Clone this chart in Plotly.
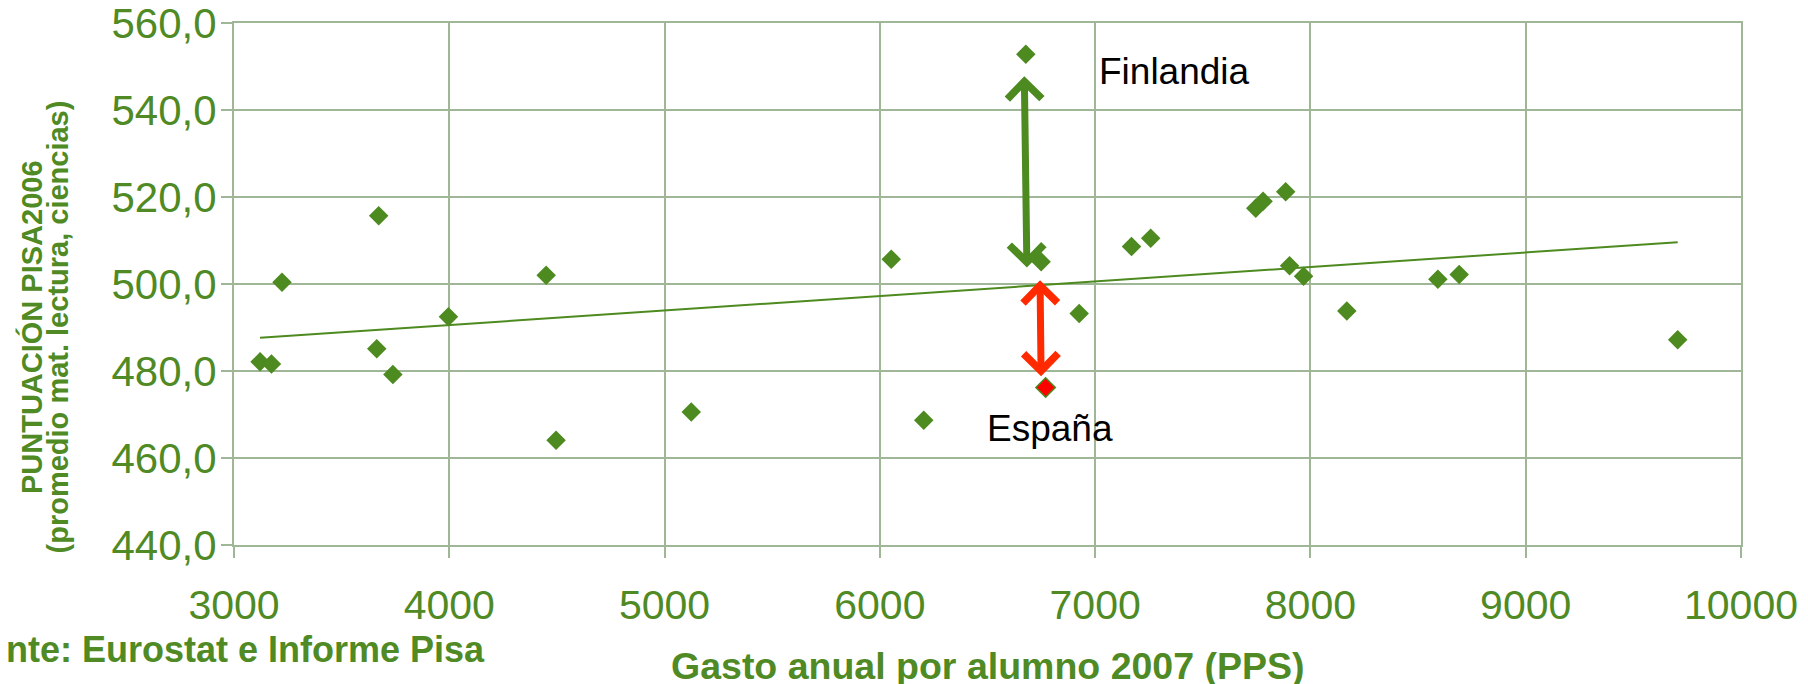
import numpy as np
import plotly.graph_objects as go

# gasto anual por alumno 2007 (PPS) y puntuacion PISA 2006
gasto = [3121, 3174, 3223, 3663, 3672, 3738, 3996, 4450, 4496, 5124,
         6053, 6204, 6678, 6749, 6926, 7169, 7258, 7746, 7780, 7885,
         7903, 7968, 8169, 8592, 8691, 9706]
pisa = [482.1, 481.6, 500.4, 485.1, 515.7, 479.2, 492.5, 502.0, 464.1, 470.6,
        505.7, 468.7, 552.8, 505.1, 493.2, 508.6, 510.5, 517.4, 519.0, 521.2,
        504.2, 501.8, 493.8, 501.1, 502.2, 487.2]

espana_x = [6770]
espana_y = [476.2]

labels = ["Finlandia", "España"]
label_x = [7010, 6790]
label_y = [548.8, 466.8]

# flechas dobles (x arriba, y arriba, x abajo, y abajo)
flecha_verde = [6671, 548.1, 6683, 503.8]
flecha_roja = [6744, 501.2, 6749, 478.8]

x_ticks = [3000, 4000, 5000, 6000, 7000, 8000, 9000, 10000]
x_ticktext = ["3000", "4000", "5000", "6000", "7000", "8000", "9000", "10000"]
y_ticks = [440, 460, 480, 500, 520, 540, 560]

GREEN = "#4d8a1f"
TXT = "#4f8a24"
GRID = "#9fb797"
RED = "#ff2a00"
FONT = "Liberation Sans, Arial, sans-serif"

# linea de tendencia (regresion lineal sobre todos los paises)
all_x = np.array(gasto + espana_x, dtype=float)
all_y = np.array(pisa + espana_y, dtype=float)
m, b = np.polyfit(all_x, all_y, 1)
tx = np.array([all_x.min(), all_x.max()])
ty = m * tx + b

fig = go.Figure()
fig.add_trace(go.Scatter(x=tx, y=ty, mode="lines",
                         line=dict(color=GREEN, width=2), hoverinfo="skip"))
fig.add_trace(go.Scatter(x=gasto, y=pisa, mode="markers",
                         marker=dict(symbol="diamond", size=15, color=GREEN,
                                     line=dict(width=0))))
fig.add_trace(go.Scatter(x=espana_x, y=espana_y, mode="markers",
                         marker=dict(symbol="diamond", size=15, color="#ff0000",
                                     line=dict(width=1.5, color=GREEN))))

for f, col in [(flecha_verde, GREEN), (flecha_roja, RED)]:
    fig.add_annotation(x=f[2], y=f[3], ax=f[0], ay=f[1], xref="x", yref="y",
                       axref="x", ayref="y", text="", showarrow=True,
                       arrowside="end+start", arrowhead=4, startarrowhead=4,
                       arrowsize=0.95, startarrowsize=0.95, arrowwidth=7,
                       arrowcolor=col, standoff=0, startstandoff=0)

fig.add_annotation(x=label_x[0], y=label_y[0], text=labels[0], showarrow=False,
                   xanchor="left", yanchor="middle",
                   font=dict(family=FONT, size=37, color="black"))
fig.add_annotation(x=label_x[1], y=label_y[1], text=labels[1], showarrow=False,
                   xanchor="center", yanchor="middle",
                   font=dict(family=FONT, size=37, color="black"))

# titulos de ejes y fuente
fig.add_annotation(xref="paper", yref="paper", x=-0.1347, y=0.4176,
                   text="<b>PUNTUACIÓN PISA2006</b>", textangle=-90,
                   showarrow=False, xanchor="center", yanchor="middle",
                   font=dict(family=FONT, size=29, color=TXT))
fig.add_annotation(xref="paper", yref="paper", x=-0.1165, y=0.4176,
                   text="<b>(promedio mat. lectura, ciencias)</b>", textangle=-90,
                   showarrow=False, xanchor="center", yanchor="middle",
                   font=dict(family=FONT, size=29, color=TXT))
fig.add_annotation(xref="paper", yref="paper", x=0.5, y=-0.231,
                   text="<b>Gasto anual por alumno 2007 (PPS)</b>",
                   showarrow=False, xanchor="center", yanchor="middle",
                   font=dict(family=FONT, size=37.5, color=TXT))
fig.add_annotation(xref="paper", yref="paper", x=0.1679, y=-0.2,
                   text="<b>Fuente: Eurostat e Informe Pisa</b>",
                   showarrow=False, xanchor="right", yanchor="middle",
                   font=dict(family=FONT, size=36, color=TXT))

# la pagina deja 8 px de margen en el body: se descuentan aqui
fig.update_layout(
    width=1800, height=676,
    margin=dict(l=226, r=67, t=15, b=139),
    paper_bgcolor="white", plot_bgcolor="white",
    showlegend=False, separators=", ",
    font=dict(family=FONT, color=TXT),
)
fig.update_xaxes(range=[3000, 10000], tickvals=x_ticks, ticktext=x_ticktext,
                 showgrid=True, automargin=False, ticklabeloverflow="allow",
                 gridcolor=GRID, gridwidth=2, showline=True, linecolor=GRID,
                 linewidth=2, mirror=True, ticks="outside", ticklen=11,
                 tickcolor=GRID, tickwidth=2, zeroline=False,
                 tickfont=dict(size=41, color=TXT), ticklabelstandoff=12)
fig.update_yaxes(range=[440, 560], tickvals=y_ticks, tickformat=".1f",
                 showgrid=True, automargin=False, ticklabeloverflow="allow",
                 gridcolor=GRID, gridwidth=2,
                 showline=True, linecolor=GRID, linewidth=2, mirror=True,
                 ticks="outside", ticklen=11, tickcolor=GRID, tickwidth=2,
                 zeroline=False, tickfont=dict(size=42, color=TXT),
                 ticklabelstandoff=-4)

fig.write_html("out.html")
